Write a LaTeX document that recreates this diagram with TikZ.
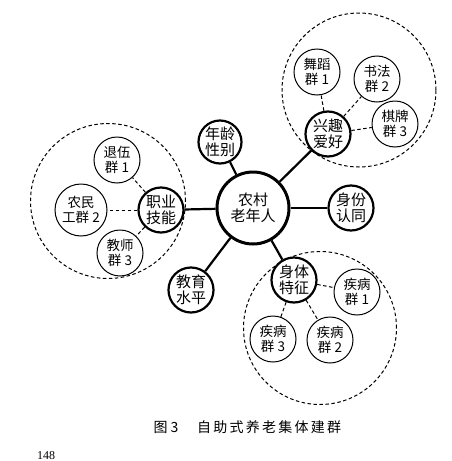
\documentclass[tikz,border=0pt]{standalone}
\usepackage{fontspec}
\setmainfont{Liberation Serif}
\newfontfamily\cjk{Noto Sans CJK SC}
\newfontfamily\cjkcap{Noto Sans CJK SC}[LetterSpace=16]
\begin{document}
\begin{tikzpicture}[x=1pt,y=-1pt,
  hub/.style={circle,draw,line width=3pt,minimum size=72pt,inner sep=0pt,align=center,
    font={\cjk\fontsize{15}{16}\selectfont}},
  mainnode/.style={circle,draw,line width=2.2pt,minimum size=45pt,inner sep=0pt,align=center,
    font={\cjk\fontsize{15}{16}\selectfont}},
  subnode/.style={circle,draw,line width=1pt,minimum size=46pt,inner sep=0pt,align=center,
    font={\cjk\fontsize{13.5}{14.5}\selectfont}},
  group/.style={circle,draw,dashed,line width=1pt,dash pattern=on 3.5pt off 2.5pt,inner sep=0pt},
  solidlink/.style={line width=2.2pt},
  dashlink/.style={line width=1pt,dash pattern=on 3.5pt off 2.5pt}]
\useasboundingbox (0,0) rectangle (452,461);
\fill[white] (0,0) rectangle (452,461);
% group circles
\node[group,minimum size=154pt] (gA) at (359,90) {};
\node[group,minimum size=155pt] (gB) at (108,201) {};
\node[group,minimum size=153pt] (gC) at (320,328) {};
% hub and main nodes
\node[hub] (hub) at (253,208) {农村\\老年人};
\node[mainnode,minimum size=43pt] (age) at (220,142) {年龄\\性别};
\node[mainnode] (hobby) at (328,134) {兴趣\\爱好};
\node[mainnode] (job) at (161,210) {职业\\技能};
\node[mainnode] (iden) at (351,208) {身份\\认同};
\node[mainnode] (edu) at (191,290) {教育\\水平};
\node[mainnode] (body) at (294,280) {身体\\特征};
% sub nodes
\node[subnode] (s1) at (317,72) {舞蹈\\群 1};
\node[subnode] (s2) at (377,79) {书法\\群 2};
\node[subnode] (s3) at (395,124) {棋牌\\群 3};
\node[subnode] (j1) at (117,160) {退伍\\群 1};
\node[subnode,minimum size=52pt] (j2) at (81,210) {农民\\工群 2};
\node[subnode] (j3) at (120,253) {教师\\群 3};
\node[subnode] (d1) at (357,292) {疾病\\群 1};
\node[subnode] (d2) at (330,340) {疾病\\群 2};
\node[subnode] (d3) at (273,339) {疾病\\群 3};
% solid links
\draw[solidlink] (hub) -- (age);
\draw[solidlink] (hub) -- (hobby);
\draw[solidlink] (hub) -- (job);
\draw[solidlink] (hub) -- (iden);
\draw[solidlink] (hub) -- (edu);
\draw[solidlink] (hub) -- (body);
% dashed links
\draw[dashlink] (hobby) -- (s1);
\draw[dashlink] (hobby) -- (s2);
\draw[dashlink] (hobby) -- (s3);
\draw[dashlink] (job) -- (j1);
\draw[dashlink] (job) -- (j2);
\draw[dashlink] (job) -- (j3);
\draw[dashlink] (body) -- (d1);
\draw[dashlink] (body) -- (d2);
\draw[dashlink] (body) -- (d3);
% caption
\node[font={\cjk\fontsize{14}{15}\selectfont}] (cap1) at (166,427) {图 3};
\node[anchor=west,inner sep=0pt,font={\cjkcap\fontsize{14}{15}\selectfont}] (cap2) at (197,427) {自助式养老集体建群};
\node[anchor=south west,inner sep=0pt,font={\fontsize{12}{13}\selectfont}] (page) at (37,460) {148};
\end{tikzpicture}
\end{document}
